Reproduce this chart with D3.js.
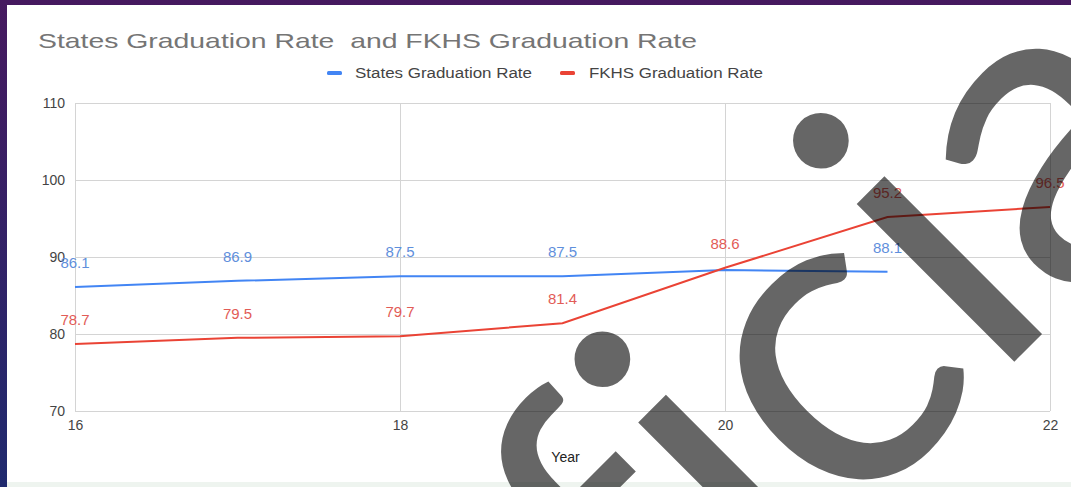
<!DOCTYPE html>
<html>
<head>
<meta charset="utf-8">
<script src="https://cdn.jsdelivr.net/npm/d3@7"></script>
<style>
  html, body { margin: 0; padding: 0; background: #2b1650; }
  svg { display: block; font-family: "Liberation Sans", Arial, sans-serif; }
</style>
</head>
<body>
<script>
// data
const years = [16, 17, 18, 19, 20, 21, 22]
const statesRate = [86.1, 86.9, 87.5, 87.5, 88.3, 88.1, null]
const fkhsRate = [78.7, 79.5, 79.7, 81.4, 88.6, 95.2, 96.5]
// the states label for year 20 is hidden in the picture (overlaps the red one)
const statesLabelShown = [true, true, true, true, false, true, false]
const yTicks = [70, 80, 90, 100, 110]
const xTicks = [16, 18, 20, 22]
const seriesNames = ["States Graduation Rate", "FKHS Graduation Rate"]

const W = 1071, H = 487
let margin = { top: 103, right: 21, bottom: 76, left: 75 }
let width = W - margin.left - margin.right,
    height = H - margin.top - margin.bottom

let svg = d3.select("body").append("svg")
    .attr("width", W)
    .attr("height", H)

// purple backdrop + white card
let defs = svg.append("defs")
let grad = defs.append("linearGradient").attr("id", "bg")
    .attr("x1", 0).attr("y1", 0).attr("x2", 0).attr("y2", 1)
grad.append("stop").attr("offset", "0%").attr("stop-color", "#46195f")
grad.append("stop").attr("offset", "100%").attr("stop-color", "#1f2a6e")
svg.append("rect").attr("width", W).attr("height", H).attr("fill", "url(#bg)")
svg.append("rect").attr("x", 7).attr("y", 5).attr("width", W - 7).attr("height", 477).attr("fill", "#ffffff")
svg.append("rect").attr("x", 7).attr("y", 482).attr("width", W - 7).attr("height", 5).attr("fill", "#eef4ef")

// title
svg.append("text")
    .attr("x", 38).attr("y", 48)
    .attr("font-size", 21)
    .attr("fill", "#757575")
    .attr("textLength", 659)
    .attr("lengthAdjust", "spacingAndGlyphs")
    .style("white-space", "pre")
    .text("States Graduation Rate  and FKHS Graduation Rate")

// legend
const legendColors = ["#4285f4", "#ea4335"]
const legendPos = [{ sx: 327, tx: 355, tw: 177 }, { sx: 560, tx: 589, tw: 174 }]
seriesNames.forEach((name, i) => {
    svg.append("rect")
        .attr("x", legendPos[i].sx).attr("y", 71)
        .attr("width", 15).attr("height", 4).attr("rx", 1.5)
        .attr("fill", legendColors[i])
    svg.append("text")
        .attr("x", legendPos[i].tx).attr("y", 78)
        .attr("font-size", 14)
        .attr("fill", "#444")
        .attr("textLength", legendPos[i].tw)
        .attr("lengthAdjust", "spacingAndGlyphs")
        .text(name)
})

let g = svg.append("g")
    .attr("transform", "translate(" + margin.left + "," + margin.top + ")")

let x = d3.scaleLinear().domain([16, 22]).range([0, width])
let y = d3.scaleLinear().domain([70, 110]).range([height, 0])

// Y axis with gridlines
let yAxis = g.append("g")
    .call(d3.axisLeft(y).tickValues(yTicks).tickSize(-width).tickPadding(10).tickFormat(d3.format("d")))
yAxis.select(".domain").remove()
yAxis.selectAll("line").attr("stroke", "#d4d4d4")
yAxis.selectAll("text").attr("font-size", 14).attr("fill", "#444").attr("font-family", "Liberation Sans, Arial, sans-serif")

// X axis with vertical gridlines
let xAxis = g.append("g")
    .attr("transform", "translate(0," + height + ")")
    .call(d3.axisBottom(x).tickValues(xTicks).tickSize(-height).tickPadding(9).tickFormat(d3.format("d")))
xAxis.select(".domain").remove()
xAxis.selectAll("line").attr("stroke", "#d4d4d4")
xAxis.selectAll("text").attr("font-size", 14).attr("fill", "#444").attr("font-family", "Liberation Sans, Arial, sans-serif")

// axis title
g.append("text")
    .attr("x", width / 2 + 3).attr("y", 359)
    .attr("text-anchor", "middle")
    .attr("font-size", 14)
    .attr("fill", "#222")
    .text("Year")

// lines
const statesPts = years.map((yr, i) => ({ yr: yr, v: statesRate[i], show: statesLabelShown[i] })).filter(d => d.v !== null)
const fkhsPts = years.map((yr, i) => ({ yr: yr, v: fkhsRate[i], show: true }))

let line = d3.line().x(d => x(d.yr)).y(d => y(d.v))

g.append("path").datum(statesPts)
    .attr("d", line).attr("fill", "none")
    .attr("stroke", "#4285f4").attr("stroke-width", 2)
g.append("path").datum(fkhsPts)
    .attr("d", line).attr("fill", "none")
    .attr("stroke", "#ea4335").attr("stroke-width", 2)

// data labels
function labels(pts, color) {
    g.append("g").selectAll("text")
        .data(pts.filter(d => d.show))
        .join("text")
        .attr("x", d => x(d.yr))
        .attr("y", d => y(d.v) - 19)
        .attr("text-anchor", "middle")
        .attr("font-size", 15)
        .attr("fill", color)
        .text(d => d.v.toFixed(1))
}
labels(statesPts, "#5f8fdc")
labels(fkhsPts, "#e25c57")

// big translucent watermark laid over the picture
let wm = svg.append("text")
    .attr("font-family", "Lato, sans-serif")
    .attr("font-size", 440)
    .attr("fill", "#000")
    .attr("fill-opacity", 0.6)
    .style("font-variant-ligatures", "none")
    .style("font-feature-settings", "'liga' 0, 'clig' 0")
    .text("ficial")
// spread the letters so the two "i" are ~309px apart, like in the picture
let centre = k => { let b = wm.node().getExtentOfChar(k); return b.x + b.width / 2 }
let gap = centre(3) - centre(1)
wm.style("letter-spacing", ((309 - gap) / 2) + "px")
// stem of the 2nd "i" ends near (1027, 349)
let sx = centre(3)
let c45 = Math.SQRT1_2
wm.attr("transform", "translate(" + (1027 - sx * c45) + "," + (349 + sx * c45) + ") rotate(-45)")
</script>
</body>
</html>
